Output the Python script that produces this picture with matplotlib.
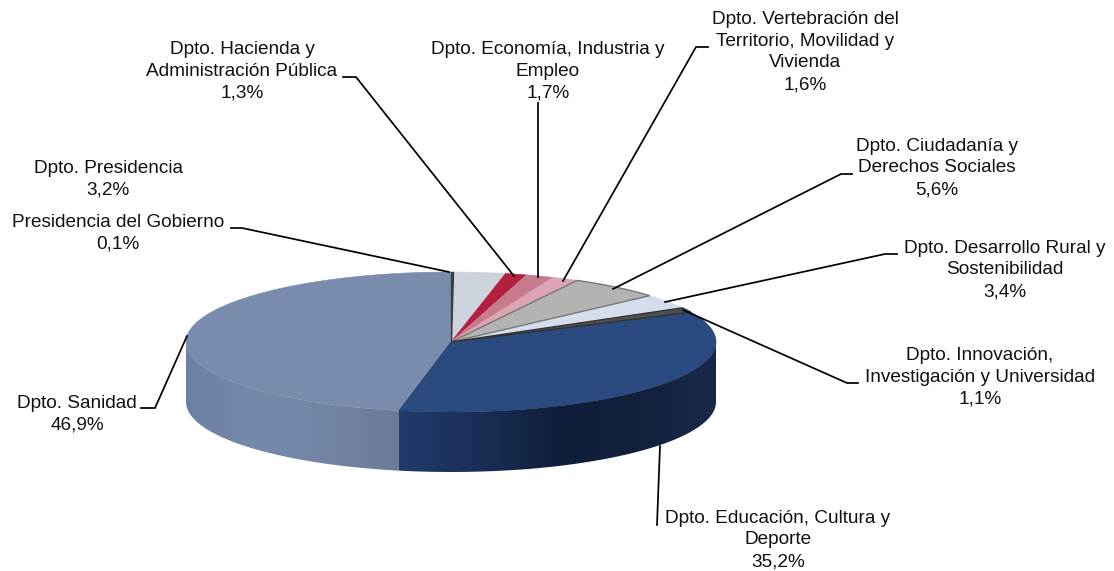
# 3D-look pie of budget share per department
import numpy as np
import matplotlib
matplotlib.use('Agg')
import matplotlib.pyplot as plt
from matplotlib.colors import LinearSegmentedColormap
from matplotlib.patches import Polygon

plt.rcParams['font.family'] = ['Liberation Sans', 'DejaVu Sans']

# clockwise from 12 o'clock
departments = [
    'Presidencia del Gobierno', 'Dpto. Presidencia',
    'Dpto. Hacienda y\nAdministración Pública',
    'Dpto. Economía, Industria y\nEmpleo',
    'Dpto. Vertebración del\nTerritorio, Movilidad y\nVivienda',
    'Dpto. Ciudadanía y\nDerechos Sociales',
    'Dpto. Desarrollo Rural y\nSostenibilidad',
    'Dpto. Innovación,\nInvestigación y Universidad',
    'Dpto. Educación, Cultura y\nDeporte',
    'Dpto. Sanidad',
]
shares = [0.1, 3.2, 1.3, 1.7, 1.6, 5.6, 3.4, 1.1, 35.2, 46.9]
share_labels = ['0,1%', '3,2%', '1,3%', '1,7%', '1,6%', '5,6%', '3,4%', '1,1%', '35,2%', '46,9%']
top_colors = ['#3c3c44', '#cdd3dd', '#b3203f', '#c67c8c', '#dca3b2',
              '#b3b3b1', '#d5dcec', '#505050', '#2a4a80', '#7a8cae']
edge_colors = ['#3c3c44', '#cdd3dd', '#b3203f', '#c67c8c', '#dca3b2',
               '#777777', '#d5dcec', '#333333', '#1d3763', '#7a8cae']

# pixel layout of the pie
cx, cy = 451, 342
rx, ry = 265, 70
depth = 60

# text centre + leader line for each label
label_pos = [(118, 233), (108, 179), (242, 71), (548, 71), (805, 52),
             (937, 168), (1005, 270), (980, 377), (778, 540), (77, 414)]
leaders = [
    [(231, 228), (242, 228), (449, 272)],
    None,
    [(343, 77), (356, 77), (514, 276)],
    [(538, 103), (538, 277)],
    [(708, 47), (696, 47), (563, 281)],
    [(852, 174), (841, 174), (613, 289)],
    [(897, 254), (885, 254), (665, 302)],
    [(858, 383), (847, 383), (683, 310)],
    [(657, 525), (660, 446)],
    [(141, 408), (155, 408), (187, 336)],
]

# side wall shading, left to right
sanidad_side = LinearSegmentedColormap.from_list('s', ['#6c80a5', '#7789ab', '#7385a6', '#6a7a98'])
educacion_side = LinearSegmentedColormap.from_list('e', ['#213b6c', '#1a2f57', '#0f1e3a', '#12203c', '#18294a'])


def ellipse(t):
    return cx + rx * np.cos(t), cy - ry * np.sin(t)


fig = plt.figure(figsize=(11.14, 5.71), dpi=100)
ax = fig.add_axes([0, 0, 1, 1])

fractions = np.array(shares) / sum(shares)
bounds = np.pi / 2 - 2 * np.pi * np.concatenate([[0], np.cumsum(fractions)])

# front wall, only the two big slices show it
for idx, cmap in ((8, educacion_side), (9, sanidad_side)):
    ts = np.linspace(bounds[idx], bounds[idx + 1], 400)
    ts = ts[np.sin(ts) <= 0.0]
    xs, ys = ellipse(ts)
    outline = np.column_stack([np.r_[xs, xs[::-1]], np.r_[ys, ys[::-1] + depth]])
    wall = Polygon(outline, closed=True, transform=ax.transData, facecolor='none', edgecolor='none')
    ax.add_patch(wall)
    img = ax.imshow(np.linspace(0, 1, 256)[None, :], cmap=cmap, aspect='auto',
                    extent=[xs.min(), xs.max(), cy + ry + depth, cy - ry], zorder=1)
    img.set_clip_path(wall)

ax.set_xlim(0, 1114)
ax.set_ylim(571, 0)
ax.axis('off')

# top face
for idx in [9, 8, 1, 2, 3, 4, 6, 5, 7, 0]:
    ts = np.linspace(bounds[idx], bounds[idx + 1], 120)
    xs, ys = ellipse(ts)
    pts = np.column_stack([np.r_[cx, xs], np.r_[cy, ys]])
    ax.add_patch(Polygon(pts, closed=True, facecolor=top_colors[idx],
                         edgecolor=edge_colors[idx], lw=1.0 if idx in (0, 5, 7) else 0.4, zorder=2))

for name, share, pos, leader in zip(departments, share_labels, label_pos, leaders):
    ax.text(pos[0], pos[1], name + '\n' + share, ha='center', va='center',
            fontsize=13.7, linespacing=1.36, color='#111111', zorder=4)
    if leader:
        ax.plot(*zip(*leader), color='black', lw=1.25, solid_joinstyle='miter', zorder=3)

fig.savefig('out.png', dpi=100, facecolor='white')
